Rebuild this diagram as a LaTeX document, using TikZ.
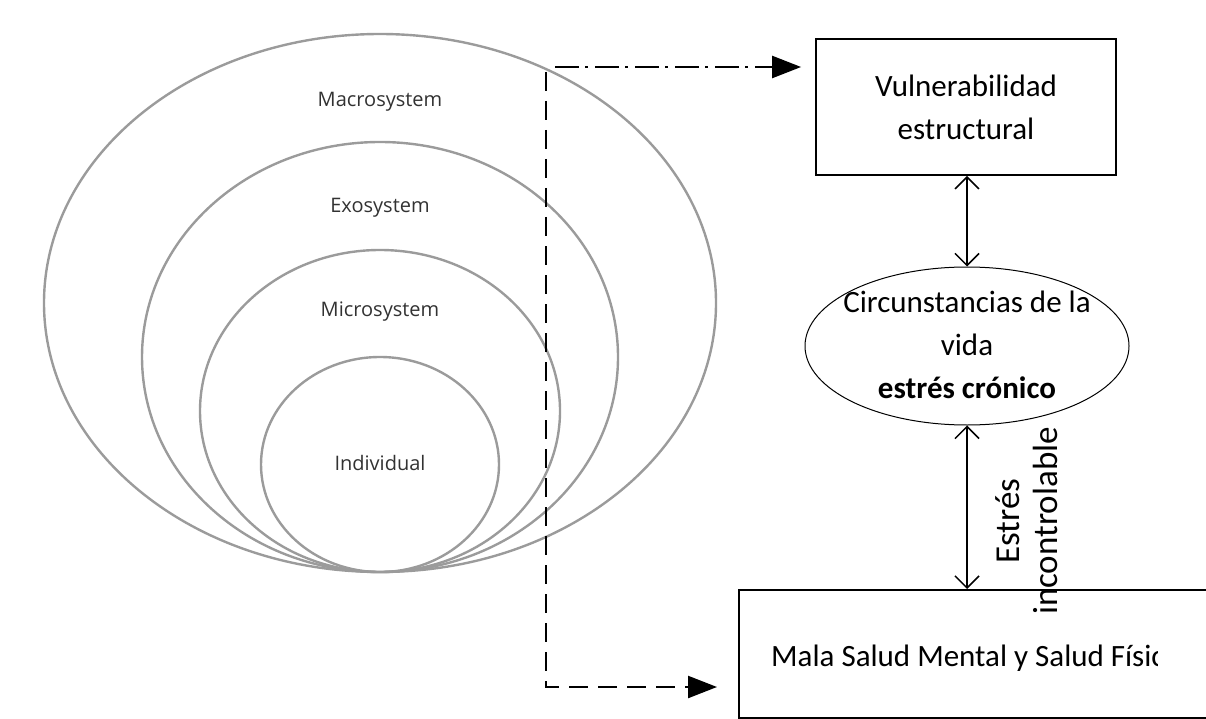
\documentclass[tikz,border=0pt]{standalone}
\usepackage{fontspec}
\setmainfont{Carlito}
\newfontfamily\labfont{Open Sans}
\usetikzlibrary{arrows.meta,shapes.geometric}
\definecolor{ringgray}{RGB}{155,155,155}
\definecolor{labgray}{RGB}{50,50,50}
\begin{document}
\begin{tikzpicture}[x=1pt,y=-1pt,
  ring/.style={ellipse, draw=ringgray, line width=2.4pt, inner sep=0pt},
  lab/.style={font=\labfont\fontsize{20}{24}\selectfont, text=labgray, inner sep=0pt, anchor=base},
  bigtext/.style={font=\fontsize{31}{43}\selectfont},
  boxnode/.style={draw, line width=1.8pt, inner sep=0pt, align=center, bigtext},
  dbl/.style={line width=1.5pt, {Straight Barb[length=12pt,width=24pt,line width=1.5pt]}-{Straight Barb[length=12pt,width=24pt,line width=1.5pt]}},
  dashline/.style={line width=2.4pt, dash pattern=on 19pt off 10pt},
  dashdotline/.style={line width=2.4pt, dash pattern=on 24pt off 6pt on 3pt off 7pt},
  tri/.style={-{Triangle[length=29pt,width=22pt]}}
]
\useasboundingbox (0,0) rectangle (1206,719);
\clip (0,0) rectangle (1206,719);

% nested rings
\node[ring, minimum width=672pt, minimum height=538pt] (macro) at (380,303) {};
\node[ring, minimum width=476pt, minimum height=430pt] (exo) at (380,357) {};
\node[ring, minimum width=360pt, minimum height=322pt] (micro) at (380,411) {};
\node[ring, minimum width=238pt, minimum height=215pt] (indiv) at (380,464.5) {};
\node[lab] (lmacro) at (380,107) {Macrosystem};
\node[lab] (lexo) at (380,213) {Exosystem};
\node[lab] (lmicro) at (380,316) {Microsystem};
\node[lab] (lindiv) at (380,470) {Individual};

% right side
\node[boxnode, minimum width=300pt, minimum height=136pt] (vul) at (966,107) {Vulnerabilidad\\estructural};
\node[ellipse, draw, line width=1pt, minimum width=324pt, minimum height=158pt, inner sep=0pt] (life) at (967,346) {};
\node[bigtext, align=center, inner sep=0pt] (lifetext) at (967,345) {Circunstancias de la\\vida\\\textbf{estrés crónico}};
\node[draw, line width=1.8pt, minimum width=472pt, minimum height=128pt, inner sep=0pt, anchor=north west] (mala) at (738,589) {};
\begin{scope}
  \clip (738,580) rectangle (1157,719);
  \node[bigtext, anchor=base west, inner sep=0pt] (malatext) at (771,666) {Mala Salud Mental y Salud Físico};
\end{scope}

\draw[dbl] (life.north |- vul.south) -- (life.north);
\draw[dbl] (life.south) -- (life.south |- mala.north);
\node[rotate=90, align=center, font=\fontsize{35}{38}\selectfont, inner sep=0pt] (stresslab) at (1027,521) {Estrés\\incontrolable};

% dashed connectors
\coordinate (c0) at (555,67);
\coordinate (c1) at (546,72);
\coordinate (c2) at (546,687);
\draw[dashdotline, tri, shorten >=14pt] (c0) -- (c0 -| vul.west);
\draw[dashline, tri, shorten >=21pt] (c1) -- (c2) -- (c2 -| mala.west);
\end{tikzpicture}
\end{document}
